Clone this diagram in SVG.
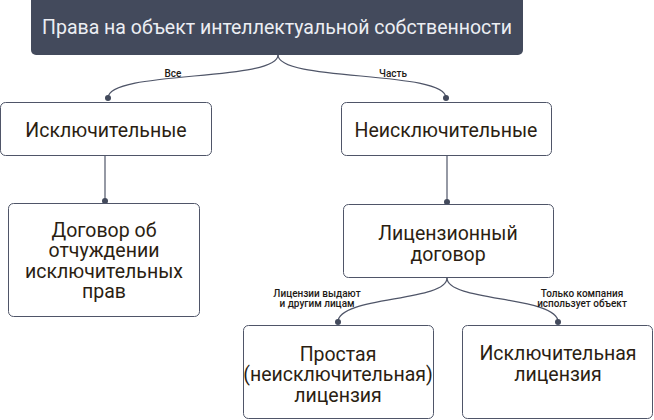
<svg xmlns="http://www.w3.org/2000/svg" width="654" height="420" viewBox="0 0 654 420">
<defs>
<style>
.box{fill:#ffffff;stroke:#4f5568;stroke-width:1}
.top{fill:#434a5c}
.t{font-family:Roboto,"Liberation Sans",sans-serif;font-size:19.5px;fill:#2b1e12;text-anchor:middle}
.tt{font-family:Roboto,"Liberation Sans",sans-serif;font-size:19.5px;fill:#eceef3;text-anchor:middle}
.l{font-family:Roboto,"Liberation Sans",sans-serif;font-size:10px;font-weight:500;fill:#1e1a16;text-anchor:middle}
.c{fill:none;stroke:#4f5568;stroke-width:1.2}
.d{fill:#434a5c}
</style>
</defs>
<g id="connectors">
<path class="c" d="M278,55 C278,82 108,70 108,98"/>
<circle class="d" cx="108" cy="98" r="3"/>
<path class="c" d="M278,55 C278,82 446,70 446,98"/>
<circle class="d" cx="446" cy="98" r="3"/>
<path class="c" d="M105,156 L105,201"/>
<circle class="d" cx="105" cy="201" r="3"/>
<path class="c" d="M447,156 L447,202"/>
<circle class="d" cx="447" cy="202" r="3"/>
<path class="c" d="M447,278 C447,302 338,296 338,322"/>
<circle class="d" cx="338" cy="322" r="3"/>
<path class="c" d="M447,278 C447,302 558,296 558,322"/>
<circle class="d" cx="558" cy="322" r="3"/>
<text class="l" x="173" y="77">Все</text>
<text class="l" x="393" y="77">Часть</text>
<text class="l" x="317" y="296.5">Лицензии выдают</text>
<text class="l" x="317" y="306.5">и другим лицам</text>
<text class="l" x="582" y="296.5">Только компания</text>
<text class="l" x="582" y="306.5">использует объект</text>
</g>
<g id="n-root">
<rect class="top" x="31" y="-6" width="492" height="61" rx="5"/>
<text class="tt" x="277" y="34">Права на объект интеллектуальной собственности</text>
</g>
<g id="n-excl">
<rect class="box" x="0.5" y="102.5" width="211" height="53" rx="5"/>
<text class="t" x="106" y="137">Исключительные</text>
</g>
<g id="n-nonexcl">
<rect class="box" x="341.5" y="102.5" width="210" height="53" rx="5"/>
<text class="t" x="446" y="137">Неисключительные</text>
</g>
<g id="n-alien">
<rect class="box" x="8.5" y="203.5" width="191" height="113" rx="5"/>
<text class="t" x="104" y="236.5">Договор об</text>
<text class="t" x="104" y="257">отчуждении</text>
<text class="t" x="104" y="277.5">исключительных</text>
<text class="t" x="104" y="298">прав</text>
</g>
<g id="n-license">
<rect class="box" x="343.5" y="204.5" width="210" height="73" rx="5"/>
<text class="t" x="448" y="240">Лицензионный</text>
<text class="t" x="448" y="260.5">договор</text>
</g>
<g id="n-simple">
<rect class="box" x="243.5" y="325.5" width="190" height="93" rx="5"/>
<text class="t" x="338" y="360.5">Простая</text>
<text class="t" x="338" y="381">(неисключительная)</text>
<text class="t" x="338" y="401.5">лицензия</text>
</g>
<g id="n-exlic">
<rect class="box" x="462.5" y="325.5" width="190" height="93" rx="5"/>
<text class="t" x="558" y="360">Исключительная</text>
<text class="t" x="558" y="380.5">лицензия</text>
</g>
</svg>
